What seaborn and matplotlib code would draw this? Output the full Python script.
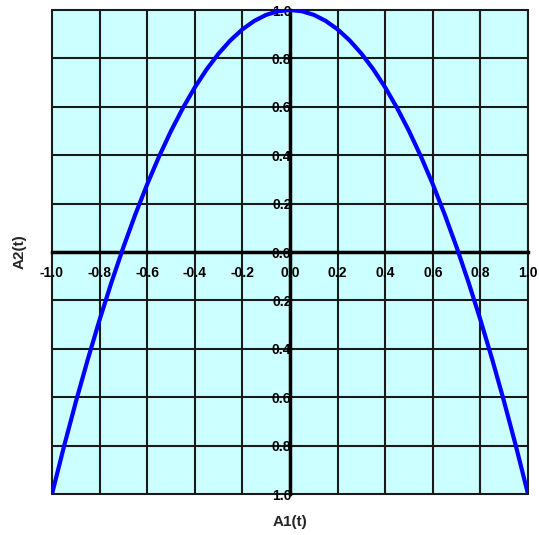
import matplotlib
matplotlib.use("Agg")
import matplotlib.pyplot as plt
import seaborn as sns
import pandas as pd

# Values
a1 = [-1.00, -0.95, -0.90, -0.85, -0.80, -0.75, -0.70, -0.65, -0.60, -0.55, -0.50,
      -0.45, -0.40, -0.35, -0.30, -0.25, -0.20, -0.15, -0.10, -0.05, 0.00,
      0.05, 0.10, 0.15, 0.20, 0.25, 0.30, 0.35, 0.40, 0.45, 0.50,
      0.55, 0.60, 0.65, 0.70, 0.75, 0.80, 0.85, 0.90, 0.95, 1.00]
a2 = [-1.00, -0.805, -0.62, -0.445, -0.28, -0.125, 0.02, 0.155, 0.28, 0.395, 0.50,
      0.595, 0.68, 0.755, 0.82, 0.875, 0.92, 0.955, 0.98, 0.995, 1.00,
      0.995, 0.98, 0.955, 0.92, 0.875, 0.82, 0.755, 0.68, 0.595, 0.50,
      0.395, 0.28, 0.155, 0.02, -0.125, -0.28, -0.445, -0.62, -0.805, -1.00]
x_ticks = [-1.0, -0.8, -0.6, -0.4, -0.2, 0.0, 0.2, 0.4, 0.6, 0.8, 1.0]
x_tick_labels = ["-1.0", "-0.8", "-0.6", "-0.4", "-0.2", "0.0", "0.2", "0.4", "0.6", "0.8", "1.0"]
y_ticks = [-1.0, -0.8, -0.6, -0.4, -0.2, 0.0, 0.2, 0.4, 0.6, 0.8, 1.0]
y_tick_labels = ["1.0", "0.8", "0.6", "0.4", "0.2", "0.0", "0.2", "0.4", "0.6", "0.8", "1.0"]
x_label = "A1(t)"
y_label = "A2(t)"

df = pd.DataFrame({"A1": a1, "A2": a2})

sns.set_style("white")
plt.rcParams["font.family"] = ["Liberation Sans", "DejaVu Sans"]

fig = plt.figure(figsize=(5.39, 5.35), dpi=100)
ax = fig.add_axes([52 / 539, 1 - 494 / 535, (528 - 52) / 539, (494 - 10) / 535])
ax.set_facecolor("#CCFFFF")

sns.lineplot(data=df, x="A1", y="A2", ax=ax, color="#0000FF", linewidth=3,
             sort=False, estimator=None, zorder=5)

ax.set_xlim(-1, 1)
ax.set_ylim(-1, 1)
ax.set_xticks(x_ticks)
ax.set_xticklabels(x_tick_labels)
ax.set_yticks(y_ticks)
ax.set_yticklabels(y_tick_labels)

ax.grid(True, color="#1a1a1a", linewidth=1.5)
ax.set_axisbelow(True)

for side in ["top", "right"]:
    ax.spines[side].set_visible(False)
ax.spines["left"].set_position(("data", 0))
ax.spines["bottom"].set_position(("data", 0))
for side in ["left", "bottom"]:
    ax.spines[side].set_linewidth(2.5)
    ax.spines[side].set_color("black")
    ax.spines[side].set_zorder(4)

ax.tick_params(axis="x", direction="out", length=4, width=1.5, pad=6,
               labelsize=10, colors="black")
ax.tick_params(axis="y", direction="in", length=4, width=1.5, pad=-1,
               labelsize=10, colors="black")
for lbl in ax.get_xticklabels() + ax.get_yticklabels():
    lbl.set_fontweight("bold")

ax.set_xlabel("")
ax.set_ylabel("")
fig.text(290 / 539, 1 - 522 / 535, x_label, ha="center", va="center",
         fontsize=11, fontweight="bold")
fig.text(20 / 539, 1 - 252 / 535, y_label, ha="center", va="center",
         fontsize=11, fontweight="bold", rotation=90)

fig.canvas.draw()
for gl in ax.get_xgridlines() + ax.get_ygridlines():
    gl.set_clip_on(False)

fig.savefig("out.png", dpi=100)
